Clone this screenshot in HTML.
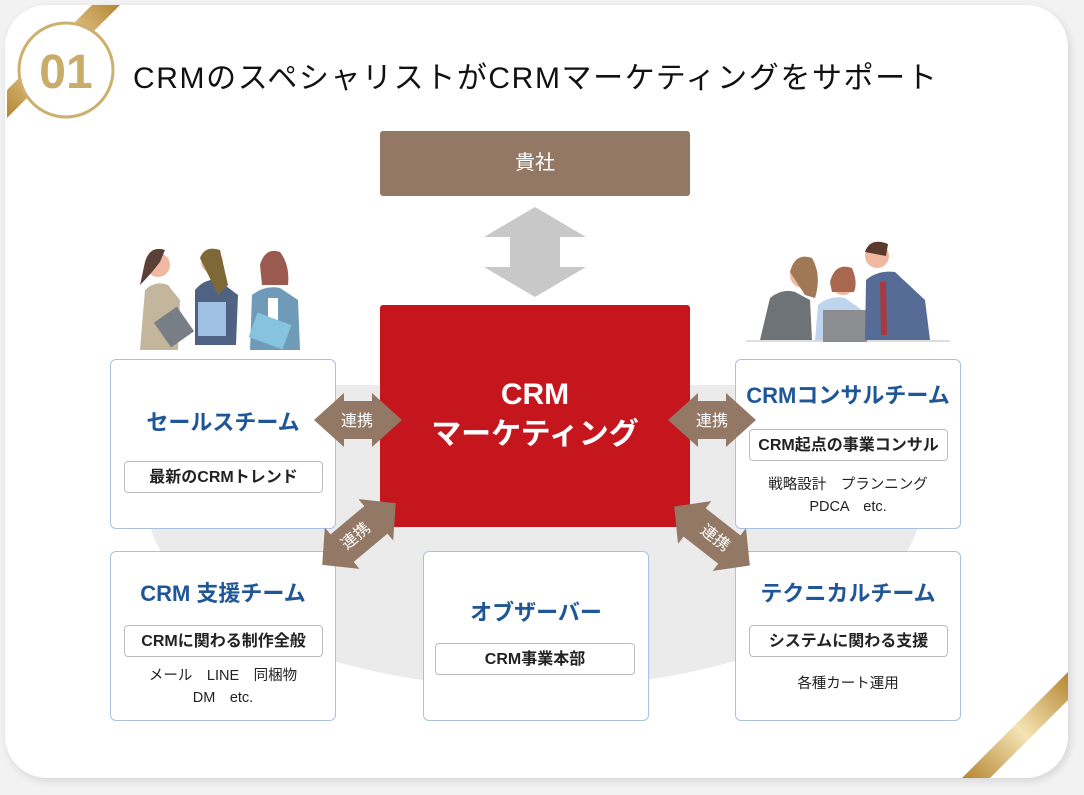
<!DOCTYPE html>
<html><head><meta charset="utf-8"><style>
html,body{margin:0;padding:0;}
body{width:1084px;height:795px;background:#f2f2f2;position:relative;overflow:hidden;font-family:"Liberation Sans","Noto Sans CJK JP",sans-serif;}
.abs{position:absolute;}
.card{position:absolute;left:5px;top:5px;width:1063px;height:773px;background:#fff;border-radius:42px;box-shadow:2px 3px 8px rgba(0,0,0,0.12);overflow:hidden;}
.box{position:absolute;background:#fff;border:1px solid #a9c0e3;border-radius:6px;box-sizing:border-box;text-align:center;}
.ttl{color:#1f5698;font-weight:bold;font-size:22px;position:absolute;left:0;right:0;}
.tag{position:absolute;border:1px solid #bbb;border-radius:4px;font-weight:bold;font-size:16px;color:#222;height:32px;line-height:31px;box-sizing:border-box;background:#fff;}
.sub{position:absolute;left:0;right:0;font-size:14.5px;color:#222;line-height:22px;}
</style></head><body>
<div class="card"></div>
<svg class="abs" style="left:0;top:0" width="1084" height="795">
<defs>
<linearGradient id="g1" x1="0" y1="1" x2="1" y2="0">
<stop offset="0" stop-color="#b48532"/><stop offset="0.5" stop-color="#f5e4b4"/><stop offset="1" stop-color="#b48532"/></linearGradient>
<clipPath id="cp"><rect x="0" y="385" width="1084" height="400"/></clipPath>
</defs>
<polygon points="92,5 120,5 7,118 7,90" fill="url(#g1)"/>
<polygon points="1068,672 1068,700 990,778 962,778" fill="url(#g1)"/>
<circle cx="66" cy="70" r="47" fill="#fff" stroke="#cdb06e" stroke-width="3"/>
<text x="66" y="88" text-anchor="middle" font-family="Liberation Sans" font-weight="bold" font-size="48" fill="#c9ac6a">01</text>
<ellipse cx="534" cy="500" rx="388" ry="188" fill="#ebebeb" clip-path="url(#cp)"/>
<polygon points="535,207 586,237 560,237 560,267 586,267 535,297 484,267 510,267 510,237 484,237" fill="#c8c8c8"/>
<!-- left people -->
<g>
<path d="M140,350 L145,290 Q155,280 168,285 L180,300 L178,350 Z" fill="#c4b59d"/>
<circle cx="158" cy="265" r="12" fill="#f0b8a0"/><path d="M145,262 Q150,245 165,250 L160,262 Q150,275 140,285 Z" fill="#5a4036"/>
<rect x="160" y="312" width="28" height="30" fill="#777e86" transform="rotate(-35 174 327)"/>
<path d="M195,345 L195,290 Q205,278 218,280 L238,295 L236,345 Z" fill="#4f6283"/>
<circle cx="212" cy="262" r="11" fill="#f0b8a0"/><path d="M200,258 Q205,245 220,250 L228,285 L218,295 Z" fill="#7d6838"/>
<rect x="198" y="302" width="28" height="34" fill="#9fbfe3"/>
<path d="M250,350 L252,295 Q265,285 280,288 L298,300 L300,350 Z" fill="#6f9bb9"/>
<circle cx="273" cy="267" r="12" fill="#f0b8a0"/><path d="M260,265 Q265,247 280,252 Q290,265 288,285 L262,285 Z" fill="#9b5a50"/>
<rect x="268" y="298" width="10" height="25" fill="#fff"/>
<rect x="252" y="318" width="36" height="26" fill="#86c3df" transform="rotate(20 270 331)"/>
</g>
<!-- right people -->
<g>
<line x1="746" y1="341" x2="950" y2="341" stroke="#bbb" stroke-width="1"/>
<path d="M760,340 L770,298 Q782,288 795,292 L810,300 L812,340 Z" fill="#6e7378"/>
<circle cx="803" cy="275" r="13" fill="#f0b8a0"/><path d="M790,272 Q795,252 812,258 Q822,275 815,298 L805,295 Z" fill="#a07855"/>
<path d="M815,340 L818,305 Q830,295 845,298 L862,310 L864,340 Z" fill="#bfd5ee"/>
<circle cx="843" cy="283" r="12" fill="#f0b8a0"/><path d="M830,282 Q835,262 852,268 Q858,282 854,292 L832,292 Z" fill="#a9674f"/>
<rect x="823" y="310" width="44" height="32" fill="#8b8d90"/>
<path d="M865,340 L866,280 Q878,270 895,272 L925,300 L930,340 Z" fill="#566c96"/>
<circle cx="877" cy="256" r="12" fill="#f0b8a0"/><path d="M865,252 Q870,237 888,244 L886,256 Z" fill="#5a3a2b"/>
<polygon points="880,282 886,282 887,335 881,335" fill="#a63a40"/>
</g>
</svg>
<div class="abs" style="left:133px;top:53px;font-size:30px;color:#111;letter-spacing:1.6px;white-space:nowrap">CRMのスペシャリストがCRMマーケティングをサポート</div>
<div class="abs" style="left:380px;top:131px;width:310px;height:65px;background:#927865;border-radius:3px;color:#fff;font-size:20px;text-align:center;line-height:65px">貴社</div>
<div class="abs" style="left:380px;top:305px;width:310px;height:222px;background:#c4161c;border-radius:3px;color:#fff;font-weight:bold;font-size:30px;text-align:center;line-height:40px;box-sizing:border-box;padding-top:70px">CRM<br>マーケティング</div>
<div class="box" style="left:110px;top:359px;width:226px;height:170px">
<div class="ttl" style="top:45px">セールスチーム</div>
<div class="tag" style="left:13px;top:101px;width:199px">最新のCRMトレンド</div>
</div>
<div class="box" style="left:110px;top:551px;width:226px;height:170px">
<div class="ttl" style="top:24px">CRM 支援チーム</div>
<div class="tag" style="left:13px;top:73px;width:199px">CRMに関わる制作全般</div>
<div class="sub" style="top:113px">メール　LINE　同梱物<br>DM　etc.</div>
</div>
<div class="box" style="left:423px;top:551px;width:226px;height:170px">
<div class="ttl" style="top:43px">オブザーバー</div>
<div class="tag" style="left:11px;top:91px;width:200px">CRM事業本部</div>
</div>
<div class="box" style="left:735px;top:359px;width:226px;height:170px">
<div class="ttl" style="top:18px">CRMコンサルチーム</div>
<div class="tag" style="left:13px;top:69px;width:199px">CRM起点の事業コンサル</div>
<div class="sub" style="top:114px">戦略設計　プランニング<br>PDCA　etc.</div>
</div>
<div class="box" style="left:735px;top:551px;width:226px;height:170px">
<div class="ttl" style="top:24px">テクニカルチーム</div>
<div class="tag" style="left:13px;top:73px;width:199px">システムに関わる支援</div>
<div class="sub" style="top:121px">各種カート運用</div>
</div>
<svg class="abs" style="left:0;top:0" width="1084" height="795">
<g fill="#927865">
<path transform="translate(314,393)" d="M0,27 L30,0 L30,8 L58,8 L58,0 L88,27 L58,54 L58,46 L30,46 L30,54 Z"/>
<path transform="translate(668,393)" d="M0,27 L30,0 L30,8 L58,8 L58,0 L88,27 L58,54 L58,46 L30,46 L30,54 Z"/>
<path transform="translate(359,534) rotate(-40) translate(-48,-27)" d="M0,27 L26,0 L26,9 L70,9 L70,0 L96,27 L70,54 L70,45 L26,45 L26,54 Z"/>
<path transform="translate(712,536) rotate(38) translate(-48,-27)" d="M0,27 L26,0 L26,9 L70,9 L70,0 L96,27 L70,54 L70,45 L26,45 L26,54 Z"/>
</g>
<g fill="#fff" font-family="Liberation Sans,Noto Sans CJK JP,sans-serif" font-size="16" text-anchor="middle">
<text x="357" y="426">連携</text>
<text x="712" y="426">連携</text>
<text transform="translate(359,540) rotate(-40)">連携</text>
<text transform="translate(712,542) rotate(38)">連携</text>
</g>
</svg>
</body></html>
